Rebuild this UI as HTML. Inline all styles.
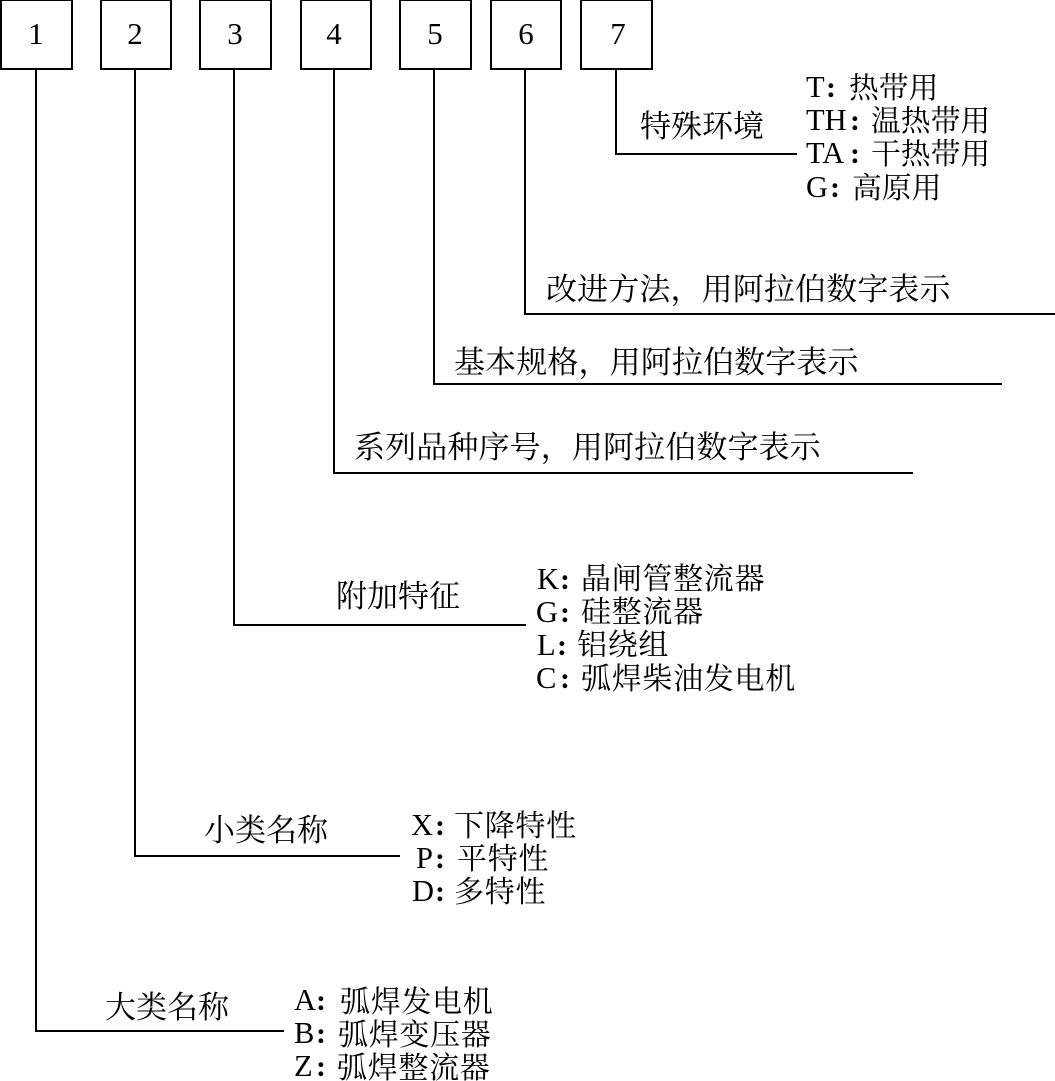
<!DOCTYPE html>
<html>
<head>
<meta charset="utf-8">
<style>
html,body{margin:0;padding:0;background:#fff;}
svg{display:block;}
text{font-family:"Liberation Serif","Noto Serif CJK SC",serif;font-size:31px;fill:#000;}
.n{font-size:31px;text-anchor:middle;}
.l{font-size:30.5px;}
.k{font-size:30px;font-weight:bold;text-anchor:middle;}
.c{font-size:30px;letter-spacing:.7px;}
.t{font-size:29.8px;}
.m{letter-spacing:.12px;}
</style>
</head>
<body>
<svg width="1055" height="1081" viewBox="0 0 1055 1081" xmlns="http://www.w3.org/2000/svg">
<g fill="none" stroke="#000" stroke-width="2">
<rect x="1" y="0" width="71" height="69"/>
<rect x="101" y="0" width="70" height="69"/>
<rect x="200" y="0" width="71" height="69"/>
<rect x="301" y="0" width="70" height="69"/>
<rect x="400" y="0" width="71" height="69"/>
<rect x="491" y="0" width="70" height="69"/>
<rect x="581" y="0" width="71" height="69"/>
<polyline points="36,69 36,1031 284,1031"/>
<polyline points="135,69 135,856 400,856"/>
<polyline points="234,69 234,625 526,625"/>
<polyline points="334,69 334,473 913,473"/>
<polyline points="434,69 434,384 1002,384"/>
<polyline points="525,69 525,314 1055,314"/>
<polyline points="616,69 616,154 797,154"/>
</g>
<text class="n" x="36" y="44">1</text>
<text class="n" x="135" y="44">2</text>
<text class="n" x="235" y="44">3</text>
<text class="n" x="334" y="44">4</text>
<text class="n" x="435" y="44">5</text>
<text class="n" x="526" y="44">6</text>
<text class="n" x="618" y="44">7</text>

<text x="640" y="137">特殊环境</text>
<text class="l" x="806" y="97">T</text><text class="k" x="831" y="97">:</text><text class="t" x="849" y="98">热带用</text>
<text class="l" x="806" y="130">TH</text><text class="k" x="855" y="130">:</text><text class="t" x="871" y="131">温热带用</text>
<text class="l" x="806" y="163">TA</text><text class="k" x="855" y="163">:</text><text class="t" x="871" y="164">干热带用</text>
<text class="l" x="806" y="197">G</text><text class="k" x="835" y="197">:</text><text class="t" x="852" y="198">高原用</text>

<text class="m" x="546" y="300">改进方法，用阿拉伯数字表示</text>
<text class="m" x="454" y="373">基本规格，用阿拉伯数字表示</text>
<text class="m" x="354" y="458">系列品种序号，用阿拉伯数字表示</text>

<text x="336" y="607">附加特征</text>
<text class="l" x="537" y="589">K</text><text class="k" x="565" y="589">:</text><text class="c" x="581" y="589">晶闸管整流器</text>
<text class="l" x="536" y="622">G</text><text class="k" x="565" y="622">:</text><text class="c" x="581" y="622">硅整流器</text>
<text class="l" x="537" y="655">L</text><text class="k" x="562" y="655">:</text><text class="c" x="577" y="655">铝绕组</text>
<text class="l" x="536" y="688">C</text><text class="k" x="565" y="688">:</text><text class="c" x="581" y="689">弧焊柴油发电机</text>

<text x="204" y="841">小类名称</text>
<text class="l" x="411" y="835">X</text><text class="k" x="440" y="835">:</text><text class="c" x="454" y="836">下降特性</text>
<text class="l" x="416" y="868">P</text><text class="k" x="440" y="868">:</text><text class="c" x="457" y="869">平特性</text>
<text class="l" x="412" y="901">D</text><text class="k" x="440" y="901">:</text><text class="c" x="454" y="902">多特性</text>

<text x="105" y="1018">大类名称</text>
<text class="l" x="294" y="1010">A</text><text class="k" x="321" y="1010">:</text><text class="c" x="340" y="1012">弧焊发电机</text>
<text class="l" x="294" y="1043">B</text><text class="k" x="321" y="1043">:</text><text class="c" x="338" y="1045">弧焊变压器</text>
<text class="l" x="294" y="1076">Z</text><text class="k" x="321" y="1076">:</text><text class="c" x="337" y="1078">弧焊整流器</text>
</svg>
</body>
</html>
